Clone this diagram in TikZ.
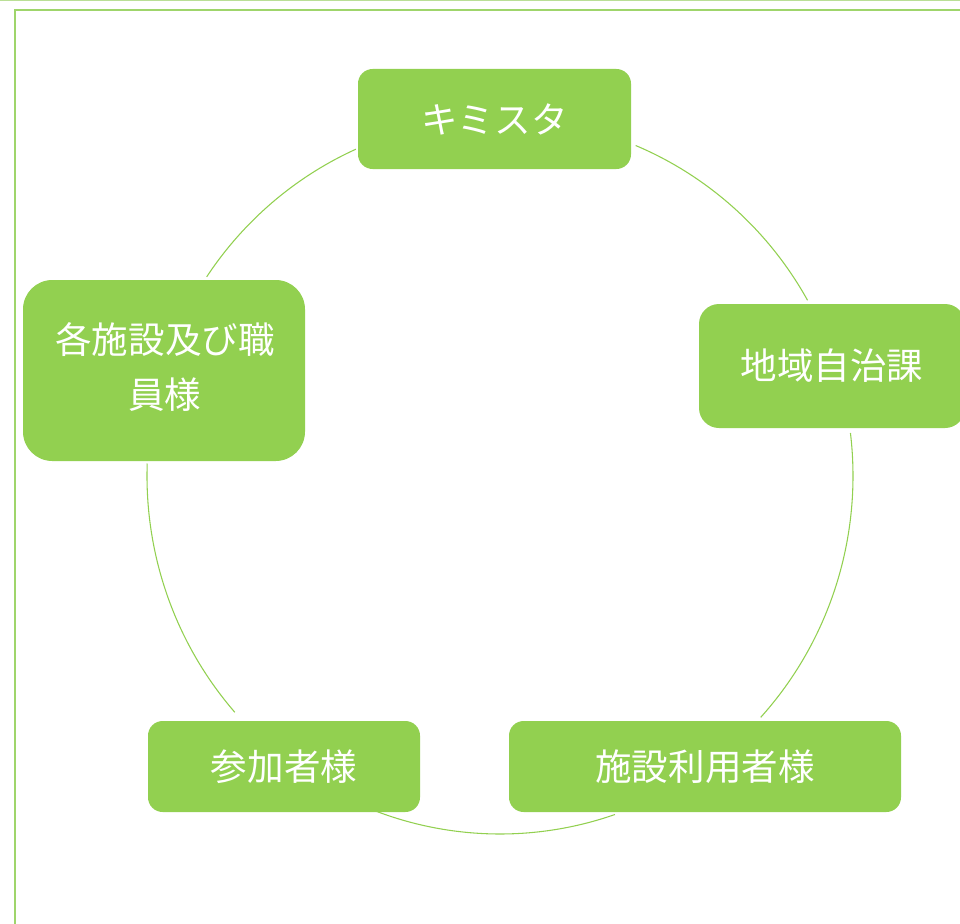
\documentclass[tikz,border=0pt]{standalone}
\usepackage{fontspec}
\newfontfamily\cjk{Noto Sans CJK JP}
\definecolor{boxgreen}{HTML}{92D050}
\definecolor{framegreen}{HTML}{9FD56B}
\definecolor{topgreen}{HTML}{BADF96}
\tikzset{
  cyclebox/.style={fill=boxgreen, draw=none, text=white, inner sep=0pt, align=center,
    font=\cjk\fontsize{27.4}{41.25}\selectfont},
  cyclearc/.style={draw=boxgreen, line width=0.8pt}
}
\begin{document}
\begin{tikzpicture}[x=0.75pt,y=-0.75pt]
\useasboundingbox (0,0) rectangle (960,924);
\clip (0,0) rectangle (960,924);
\fill[white] (0,0) rectangle (960,924);
% frame
\draw[topgreen, line width=0.75pt] (0,0.5) -- (960,0.5);
\draw[framegreen, line width=1.6pt] (15,1000) -- (15,10) -- (1000,10);
% arcs (ellipse centre (500,476), rx 353, ry 358)
\coordinate (ctr) at (500,476);
\begin{scope}[y=0.75pt]
\draw[cyclearc] (ctr) ++(114.1:353 and 358) arc[start angle=114.1, end angle=146.2, x radius=353, y radius=358];
\draw[cyclearc] (ctr) ++(67.4:353 and 358) arc[start angle=67.4, end angle=29.4, x radius=353, y radius=358];
\draw[cyclearc] (ctr) ++(6.9:353 and 358) arc[start angle=6.9, end angle=-42.4, x radius=353, y radius=358];
\draw[cyclearc] (ctr) ++(-71:353 and 358) arc[start angle=-71, end angle=-110.5, x radius=353, y radius=358];
\draw[cyclearc] (ctr) ++(221.3:353 and 358) arc[start angle=221.3, end angle=178, x radius=353, y radius=358];
\end{scope}
% boxes
\node[cyclebox, minimum width=204.75pt, minimum height=75pt, rounded corners=11pt] (kimisuta) at (494.5,119) {キミスタ};
\node[cyclebox, minimum width=199.5pt, minimum height=93pt, rounded corners=15pt] (chiiki) at (832,366) {地域自治課};
\node[cyclebox, minimum width=294pt, minimum height=68.25pt, rounded corners=11pt] (riyou) at (705,766.5) {施設利用者様};
\node[cyclebox, minimum width=204pt, minimum height=68.25pt, rounded corners=11pt] (sanka) at (284,766.5) {参加者様};
\node[cyclebox, minimum width=211.5pt, minimum height=135.75pt, rounded corners=22pt] (shisetsu) at (164,370.5) {};
\node[text=white, font=\cjk\fontsize{27.4}{41.25}\selectfont, align=center, inner sep=0pt] (shisetsutext) at (165,367.5) {各施設及び職\\員様};
\end{tikzpicture}
\end{document}
